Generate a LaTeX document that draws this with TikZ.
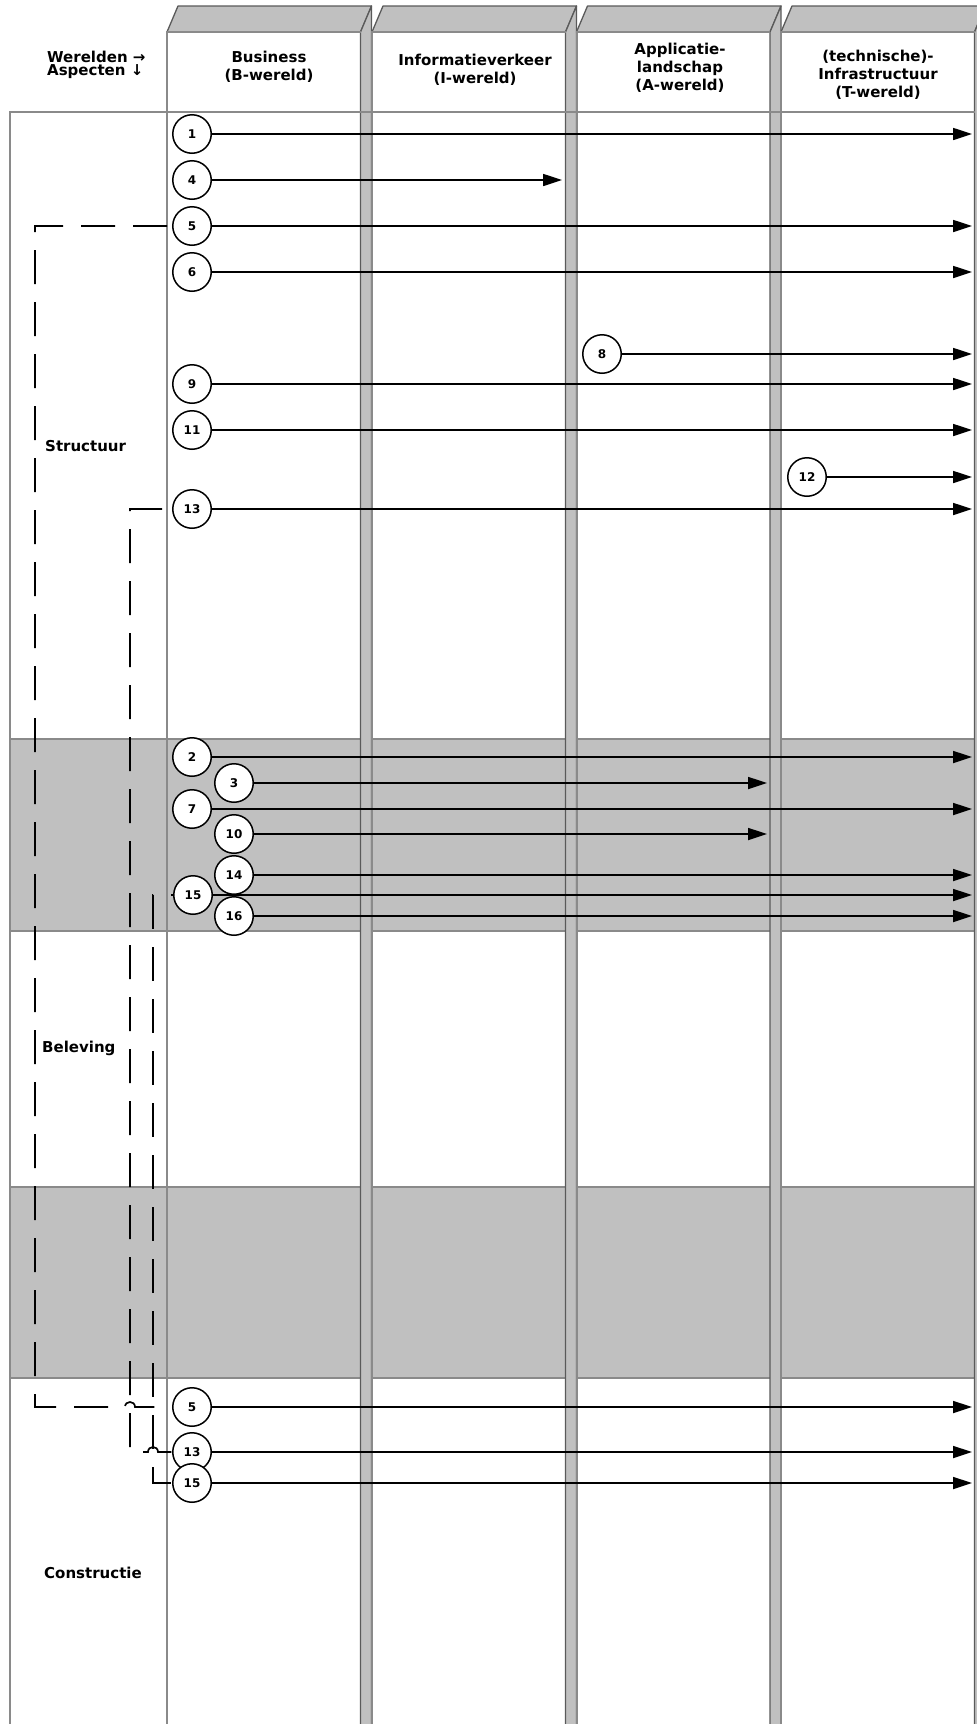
\documentclass[tikz,border=0pt]{standalone}
\usepackage{fontspec}
\setmainfont{DejaVu Sans}
\usepackage{xcolor}
\usepackage{tikz}
\usetikzlibrary{arrows.meta, calc}
\definecolor{bandgray}{HTML}{C0C0C0}
\definecolor{framegray}{HTML}{8A8A8A}
\definecolor{rimgray}{HTML}{5A5A5A}

\begin{document}
\begin{tikzpicture}[x=1pt, y=-1pt,
    num/.style={draw, circle, fill=white, line width=1.5pt, minimum size=38.5pt, inner sep=0pt,
                font=\fontsize{12}{12}\selectfont\bfseries},
    arr/.style={-{Triangle[length=19pt, width=12pt]}, line width=1.7pt},
    lnk/.style={line width=1.7pt, dash pattern=on 34pt off 18pt},
    hdr/.style={font=\fontsize{15}{18}\selectfont\bfseries, align=center, inner sep=0pt},
    asp/.style={font=\fontsize{15}{18}\selectfont\bfseries, anchor=base west, inner sep=0pt},
    band/.style={fill=bandgray, draw=framegray, line width=2.5pt},
    face/.style={fill=bandgray, draw=rimgray, line width=1.3pt, line join=round},
    front/.style={draw=framegray, line width=2pt},
]
\fill[white] (0,0) rectangle (977,1724);
\path[use as bounding box] (0,0) rectangle (977,1724);
\clip (0,0) rectangle (977,1724);

\path[band] (10,739) rectangle (975,931);
\path[band] (10,1187) rectangle (975,1378);

\foreach \xl in {167, 372, 576.5, 781}{
  \path[face] (\xl,32) -- (\xl+11,6) -- (\xl+204.5,6) -- (\xl+193.5,32) -- cycle;
  \path[face] (\xl+193.5,32) -- (\xl+204.5,6) -- (\xl+204.5,1740) -- (\xl+193.5,1740) -- cycle;
  \draw[front] (\xl,1740) -- (\xl,32) -- (\xl+193.5,32);
}
\draw[front] (10,1740) -- (10,112) -- (975,112);

\node[hdr, align=left, anchor=west, font=\fontsize{15}{13.5}\selectfont\bfseries] (werelden) at (47,65)
  {Werelden →\\Aspecten ↓};
\node[hdr] (tB) at (269,67) {Business\\(B-wereld)};
\node[hdr] (tI) at (475,70) {Informatieverkeer\\(I-wereld)};
\node[hdr] (tA) at (680,68) {Applicatie-\\landschap\\(A-wereld)};
\node[hdr] (tT) at (878,75) {(technische)-\\Infrastructuur\\(T-wereld)};

\node[asp] (structuur) at (45,451) {Structuur};
\node[asp] (beleving) at (42,1052) {Beleving};
\node[asp] (constructie) at (44,1578) {Constructie};

\node[num] (c1) at (192,134) {1};
\node[num] (c4) at (192,180) {4};
\node[num] (c5) at (192,226) {5};
\node[num] (c6) at (192,272) {6};
\node[num] (c8) at (602,354) {8};
\node[num] (c9) at (192,384) {9};
\node[num] (c11) at (192,430) {11};
\node[num] (c12) at (807,477) {12};
\node[num] (c13) at (192,509) {13};
\node[num] (c2) at (192,757) {2};
\node[num] (c3) at (234,783) {3};
\node[num] (c7) at (192,809) {7};
\node[num] (c10) at (234,834) {10};
\node[num] (c14) at (234,875) {14};
\node[num] (c15) at (193,895) {15};
\node[num] (c16) at (234,916) {16};
\node[num] (c5b) at (192,1407) {5};
\node[num] (c13b) at (192,1452) {13};
\node[num] (c15b) at (192,1483) {15};

\coordinate (tend) at (972,0);
\coordinate (aend) at (767,0);
\coordinate (iend) at (562,0);
\coordinate (x5) at (35,0);
\coordinate (x13) at (130,0);
\coordinate (x15) at (153,0);

\foreach \c in {c1,c5,c6,c8,c9,c11,c12,c13,c2,c7,c14,c15,c16,c5b,c13b,c15b}
  \draw[arr] (\c) -- (\c -| tend);
\draw[arr] (c4) -- (c4 -| iend);
\foreach \c in {c3,c10}
  \draw[arr] (\c) -- (\c -| aend);

\draw[lnk, dash phase=47pt] (c5) -- (c5 -| x5) -- (c5b -| x5) -- ($(c5b -| x13)+(-5,0)$)
  .. controls ($(c5b -| x13)+(-5,-6.7)$) and ($(c5b -| x13)+(5,-6.7)$) .. ($(c5b -| x13)+(5,0)$) -- (c5b);
\draw[lnk, dash phase=42pt] (c13) -- (c13 -| x13) -- (c13b -| x13) -- ($(c13b -| x15)+(-5,0)$)
  .. controls ($(c13b -| x15)+(-5,-6.7)$) and ($(c13b -| x15)+(5,-6.7)$) .. ($(c13b -| x15)+(5,0)$) -- (c13b);
\draw[lnk, dash phase=32pt] (c15) -- (c15 -| x15) -- (c15b -| x15) -- (c15b);
\end{tikzpicture}
\end{document}
